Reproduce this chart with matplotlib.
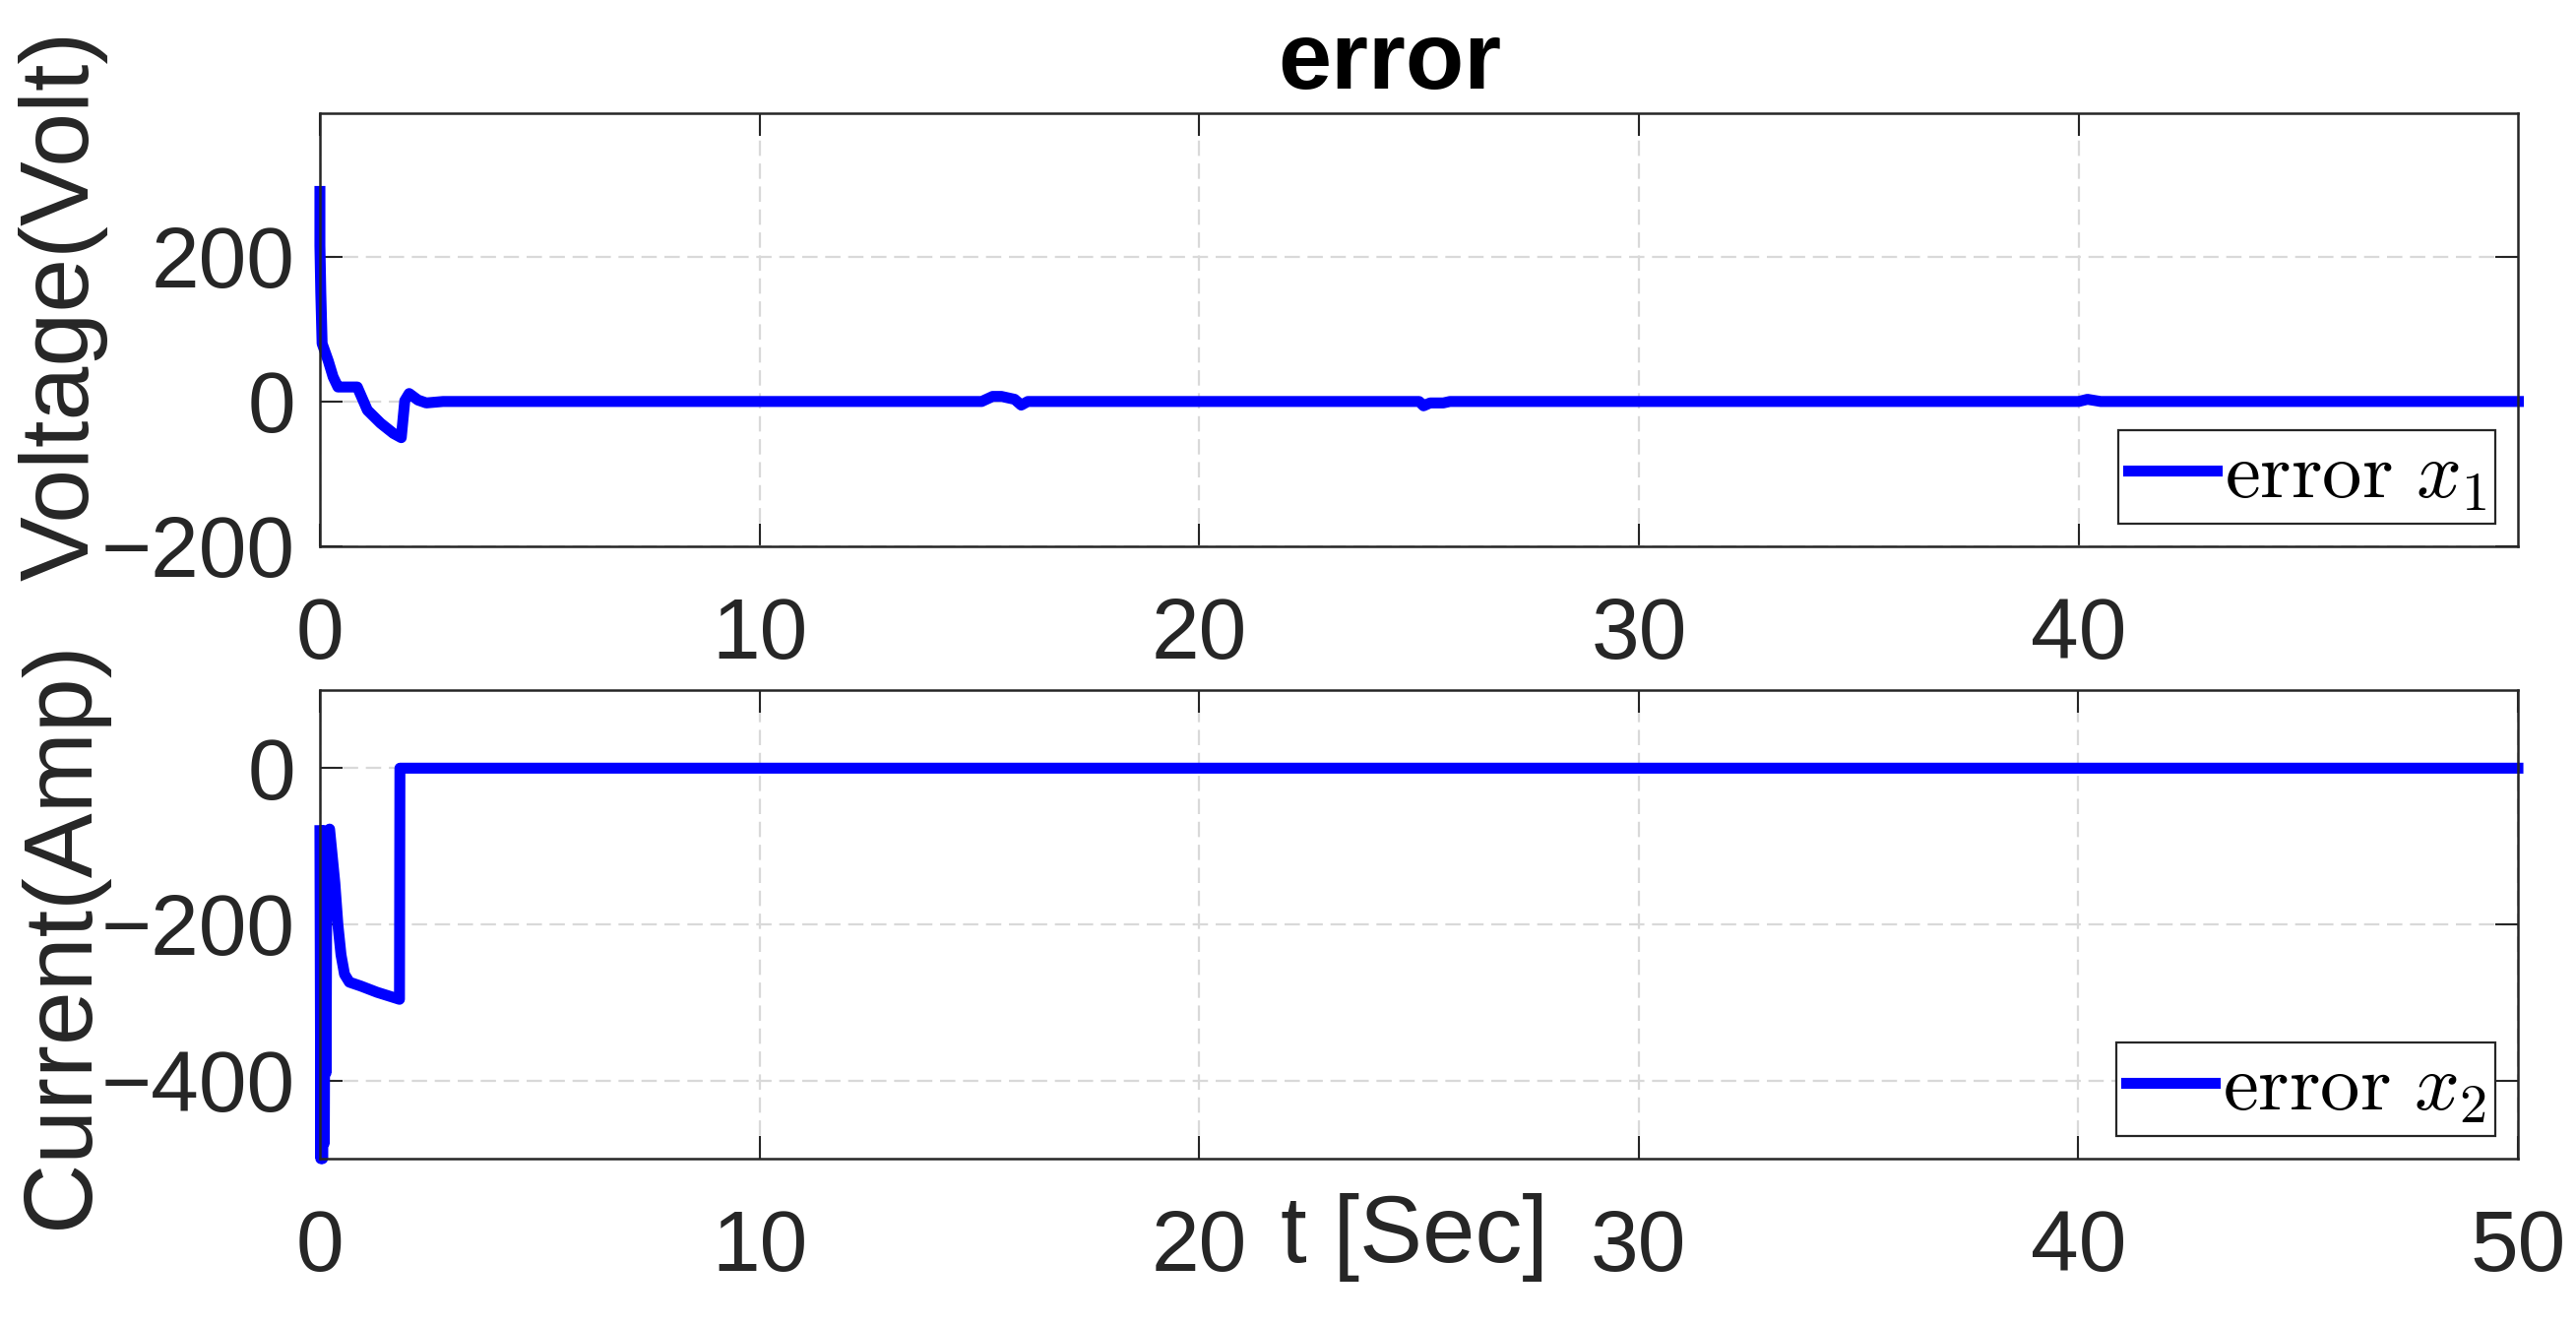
import matplotlib
matplotlib.use("Agg")
import matplotlib.pyplot as plt
import numpy as np

# ---------------- data ----------------
t_x1 = [0.0, 0.0, 0.02, 0.05, 0.12, 0.19, 0.30, 0.41, 0.52, 0.85, 1.08, 1.38,
        1.67, 1.85, 1.93, 2.03, 2.23, 2.42, 2.8, 8.0, 15.05, 15.3, 15.5,
        15.8, 15.95, 16.1, 20.0, 25.0, 25.1, 25.25, 25.55, 25.7, 33.0, 40.0,
        40.2, 40.5, 45.0, 50.0]
err_x1 = [290, 215, 150, 80, 68, 56, 34, 20, 20, 20, -12, -30,
          -44, -50, 1, 11, 2, -2, 0, 0, 0, 7, 7,
          3, -5, 0, 0, 0, -6, -2, -2, 0, 0, 0,
          3, 0, 0, 0]

t_x2 = [0.0, 0.02, 0.04, 0.06, 0.08, 0.10, 0.12, 0.14, 0.16, 0.19, 0.22,
        0.34, 0.41, 0.48, 0.56, 0.67, 0.93, 1.30, 1.81, 1.82, 10.0, 50.0]
err_x2 = [-80, -500, -80, -500, -90, -480, -100, -390, -85, -80, -78,
          -147, -201, -239, -264, -274, -279, -287, -296, 0, 0, 0]

x_ticks_top = [0, 10, 20, 30, 40]
x_ticks_bottom = [0, 10, 20, 30, 40, 50]
y_ticks_top = [-200, 0, 200]
y_ticks_bottom = [-400, -200, 0]

title_text = "error"
ylabel_top = "Voltage(Volt)"
ylabel_bottom = "Current(Amp)"
xlabel_text = "t [Sec]"
legend_top = r"$\mathrm{error}\ x_1$"
legend_bottom = r"$\mathrm{error}\ x_2$"

# ---------------- style ----------------
plt.rcParams["font.family"] = ["Liberation Sans", "DejaVu Sans"]
plt.rcParams["mathtext.fontset"] = "cm"
axis_col = "#262626"
grid_col = "#d9d9d9"
line_col = (0, 0, 1)

fig = plt.figure(figsize=(26.17, 13.46), dpi=100)
W, H = 2617.0, 1346.0
ax1 = fig.add_axes([325 / W, 1 - 555 / H, (2558 - 325) / W, (555 - 115) / H])
ax2 = fig.add_axes([325 / W, 1 - 1177 / H, (2558 - 325) / W, (1177 - 701) / H])


def style(ax, xticks, yticks, xlim, ylim):
    ax.set_xlim(*xlim)
    ax.set_ylim(*ylim)
    ax.set_xticks(xticks)
    ax.set_yticks(yticks)
    ax.grid(True, color=grid_col, linestyle=(0, (7, 3.5)), linewidth=1.6)
    ax.set_axisbelow(True)
    for s in ax.spines.values():
        s.set_color(axis_col)
        s.set_linewidth(1.8)
    ax.tick_params(axis="both", direction="in", length=16.5, width=1.5,
                   color=axis_col, labelcolor=axis_col, labelsize=63,
                   top=True, right=True)
    ax.tick_params(axis="x", pad=37)
    ax.tick_params(axis="y", pad=18)


ax1.plot(t_x1, err_x1, color=line_col, linewidth=8.0, clip_on=False,
         solid_joinstyle="round", label=legend_top)
ax2.plot(t_x2, err_x2, color=line_col, linewidth=8.0, clip_on=False,
         solid_joinstyle="round", label=legend_bottom)

style(ax1, x_ticks_top, y_ticks_top, (0, 49.99), (-200, 398))
style(ax2, x_ticks_bottom, y_ticks_bottom, (0, 50), (-500, 100))

ax1.set_title(title_text, fontsize=70, fontweight="bold", pad=18, x=0.4868,
              color="black")

ax1.set_ylabel(ylabel_top, fontsize=71, color=axis_col)
ax1.yaxis.set_label_coords(-0.0967, 0.557)
ax2.set_ylabel(ylabel_bottom, fontsize=71, color=axis_col)
ax2.yaxis.set_label_coords(-0.0967, 0.479)

ax2.set_xlabel(xlabel_text, fontsize=69, color=axis_col)
ax2.xaxis.set_label_coords(0.498, -0.2206)
ax2.xaxis.label.set_verticalalignment("baseline")

for ax in (ax1, ax2):
    leg = ax.legend(loc="lower right", fontsize=58, frameon=True, fancybox=False,
                    framealpha=1, edgecolor=axis_col, handlelength=1.12,
                    handletextpad=0.1, borderpad=0.12, borderaxespad=0.28)
    leg.get_frame().set_linewidth(1.6)

fig.savefig("out.png", dpi=100)
